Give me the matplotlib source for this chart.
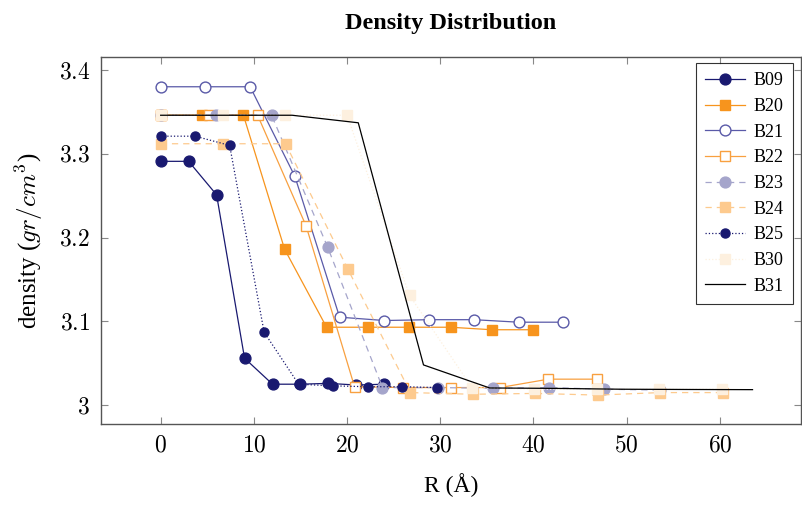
import matplotlib
matplotlib.use("Agg")
import matplotlib.pyplot as plt

plt.rcParams['mathtext.fontset'] = 'cm'
plt.rcParams['font.family'] = ['Liberation Serif', 'DejaVu Serif']

# radial density profiles, R in angstrom
r_b09 = [0, 3.0, 6.0, 9.0, 12.0, 15.0, 18.0, 21.0, 24.0]
d_b09 = [3.291, 3.291, 3.251, 3.056, 3.025, 3.025, 3.026, 3.024, 3.025]

r_b20 = [0, 4.44, 8.88, 13.3, 17.8, 22.2, 26.6, 31.1, 35.5, 40.0]
d_b20 = [3.346, 3.346, 3.346, 3.186, 3.093, 3.093, 3.093, 3.093, 3.090, 3.090]

r_b21 = [0, 4.8, 9.6, 14.4, 19.2, 24.0, 28.8, 33.6, 38.4, 43.2]
d_b21 = [3.380, 3.380, 3.380, 3.273, 3.105, 3.101, 3.102, 3.102, 3.099, 3.099]

r_b22 = [0, 5.2, 10.4, 15.6, 20.8, 26.0, 31.2, 36.4, 41.6, 46.8]
d_b22 = [3.346, 3.346, 3.346, 3.214, 3.022, 3.021, 3.021, 3.021, 3.031, 3.031]

r_b23 = [0, 5.96, 11.9, 17.9, 23.8, 29.8, 35.7, 41.7, 47.6, 53.6]
d_b23 = [3.346, 3.346, 3.346, 3.189, 3.021, 3.021, 3.020, 3.021, 3.019, 3.018]

r_b24 = [0, 6.7, 13.4, 20.1, 26.8, 33.5, 40.2, 46.9, 53.6, 60.3]
d_b24 = [3.312, 3.312, 3.312, 3.162, 3.015, 3.013, 3.014, 3.012, 3.015, 3.015]

r_b25 = [0, 3.7, 7.4, 11.1, 14.8, 18.5, 22.2, 25.9, 29.6]
d_b25 = [3.321, 3.321, 3.310, 3.087, 3.025, 3.023, 3.022, 3.022, 3.021]

r_b30 = [0, 6.7, 13.3, 20.0, 26.7, 33.4, 40.1, 46.8, 53.5, 60.2]
d_b30 = [3.346, 3.346, 3.346, 3.346, 3.131, 3.021, 3.019, 3.019, 3.019, 3.019]

r_b31 = [0, 7.05, 14.1, 21.2, 28.2, 35.3, 42.3, 49.4, 56.4, 63.5]
d_b31 = [3.346, 3.346, 3.346, 3.337, 3.048, 3.0205, 3.020, 3.019, 3.0187, 3.0185]

navy = '#191970'
orange = '#f7941d'

fig = plt.figure(figsize=(8.03, 5.05), dpi=100)
ax = fig.add_axes([0.1258, 0.1604, 0.8717, 0.7267])

lw = 0.9
ms = 7.8
ax.plot(r_b09, d_b09, '-', color=navy, lw=lw, marker='o', ms=ms,
        mfc=navy, mec=navy, label='B09')
ax.plot(r_b20, d_b20, '-', color=orange, lw=lw, marker='s', ms=ms,
        mfc=orange, mec=orange, label='B20')
ax.plot(r_b21, d_b21, '-', color='#5a5aa8', lw=lw, marker='o', ms=ms,
        mfc='white', mec='#5a5aa8', mew=1.0, label='B21')
ax.plot(r_b22, d_b22, '-', color='#f8a040', lw=lw, marker='s', ms=ms,
        mfc='white', mec='#f8a040', mew=1.0, label='B22')
ax.plot(r_b23, d_b23, '--', color='#a5a5cb', lw=lw, marker='o', ms=ms,
        mfc='#a5a5cb', mec='#a5a5cb', dashes=(5, 4), label='B23')
ax.plot(r_b24, d_b24, '--', color='#fdca8e', lw=lw, marker='s', ms=ms,
        mfc='#fdca8e', mec='#fdca8e', dashes=(5, 4), label='B24')
ax.plot(r_b25, d_b25, ':', color=navy, lw=lw, marker='o', ms=6.5,
        mfc=navy, mec=navy, label='B25')
ax.plot(r_b30, d_b30, ':', color='#fdf0df', lw=lw, marker='s', ms=ms,
        mfc='#fdf0df', mec='#fdf0df', label='B30')
ax.plot(r_b31, d_b31, '-', color='black', lw=lw, label='B31')

ax.set_xlim(-6.4, 68.7)
ax.set_ylim(2.9775, 3.4155)
ax.set_xticks([0, 10, 20, 30, 40, 50, 60])
ax.set_xticklabels(['$%d$' % v for v in [0, 10, 20, 30, 40, 50, 60]])
ax.set_yticks([3.0, 3.1, 3.2, 3.3, 3.4])
ax.set_yticklabels(['$3$', '$3.1$', '$3.2$', '$3.3$', '$3.4$'])
ax.tick_params(direction='in', length=5, width=0.8, color='#888888',
               labelsize=17, top=True, right=True, pad=8)

for s in ax.spines.values():
    s.set_color('#555555')
    s.set_linewidth(1.0)

ax.set_xlabel('R (Å)', fontsize=17, labelpad=12)
ax.set_ylabel('density ($gr/cm^3$)', fontsize=18, labelpad=10)
ax.set_title('Density Distribution', fontsize=17.5, fontweight='bold', pad=20)

leg = ax.legend(loc='upper right', bbox_to_anchor=(0.9935, 0.9925),
                fontsize=13, frameon=True, fancybox=False,
                edgecolor='black', handlelength=2.2, labelspacing=0.48,
                borderpad=0.5, handletextpad=0.5, borderaxespad=0.2)
leg.get_frame().set_linewidth(0.8)

fig.savefig('out.png', dpi=100)
